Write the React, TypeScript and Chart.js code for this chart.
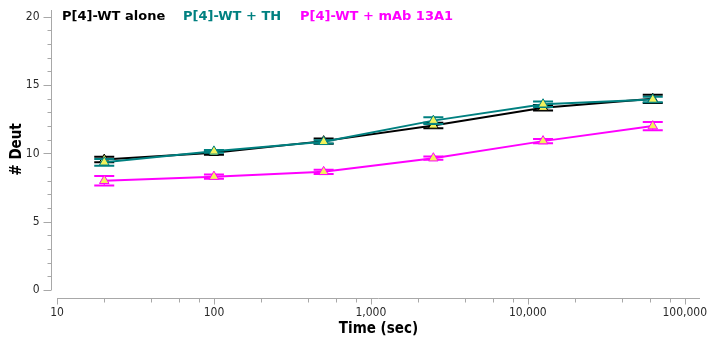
import { useEffect, useRef } from 'react';
import { Chart, registerables } from 'chart.js';

Chart.register(...registerables);

// Exchange time points (seconds)
const times = [20, 100, 500, 2500, 12500, 62500];

const seriesNames = ['P[4]-WT alone', 'P[4]-WT + TH', 'P[4]-WT + mAb 13A1'];
const seriesColors = ['#000000', '#008080', '#ff00ff'];

// Deuterium uptake and standard deviations per state
const aloneDeut = [9.55, 10.05, 10.9, 12.05, 13.35, 14.0];
const aloneErr = [0.2, 0.15, 0.2, 0.2, 0.2, 0.3];
const thDeut = [9.35, 10.15, 10.85, 12.4, 13.6, 13.95];
const thErr = [0.25, 0.1, 0.12, 0.25, 0.2, 0.2];
const mabDeut = [8.0, 8.3, 8.65, 9.65, 10.9, 12.0];
const mabErr = [0.35, 0.15, 0.15, 0.12, 0.15, 0.3];

const yMajorTicks = [0, 5, 10, 15, 20];
const xMajorTicks = [10, 100, 1000, 10000, 100000];
const xTickLabels = ['10', '100', '1,000', '10,000', '100,000'];
const xMinorFactors = [2, 4, 6, 8];

const xTitle = 'Time (sec)';
const yTitle = '# Deut';

const FONT = '"DejaVu Sans Condensed", "DejaVu Sans", sans-serif';
const LEGEND_FONT = '"DejaVu Sans", sans-serif';
const AXIS_GREY = '#a8a8a8';
const MARKER_FILL = '#f2f25c';

const errorSets = [aloneErr, thErr, mabErr];

const errorBarPlugin = {
  id: 'errorCaps',
  beforeDatasetDraw(chart: any, args: any) {
    const i = args.index;
    const errs = errorSets[i];
    const ds = chart.data.datasets[i];
    const xs = chart.scales.x;
    const ys = chart.scales.y;
    const ctx = chart.ctx;
    ctx.save();
    ctx.strokeStyle = seriesColors[i];
    ds.data.forEach((p: any, k: number) => {
      const px = xs.getPixelForValue(p.x);
      const top = ys.getPixelForValue(p.y + errs[k]);
      const bot = ys.getPixelForValue(p.y - errs[k]);
      ctx.lineWidth = 2;
      ctx.beginPath();
      ctx.moveTo(px - 10, top);
      ctx.lineTo(px + 10, top);
      ctx.moveTo(px - 10, bot);
      ctx.lineTo(px + 10, bot);
      ctx.stroke();
      ctx.lineWidth = 1;
      ctx.beginPath();
      ctx.moveTo(px, top);
      ctx.lineTo(px, bot);
      ctx.stroke();
    });
    ctx.restore();
  },
};

const axesPlugin = {
  id: 'plainAxes',
  afterDraw(chart: any) {
    const { ctx, chartArea } = chart;
    const xs = chart.scales.x;
    const ys = chart.scales.y;
    ctx.save();
    ctx.strokeStyle = AXIS_GREY;
    ctx.lineWidth = 1;

    // Y axis, set slightly left of the plot
    const yAxisX = Math.round(chartArea.left) - 6 + 0.5;
    const y0 = ys.getPixelForValue(0);
    ctx.beginPath();
    ctx.moveTo(yAxisX, chartArea.top);
    ctx.lineTo(yAxisX, y0);
    for (let v = 0; v <= 20; v++) {
      const py = Math.round(ys.getPixelForValue(v)) + 0.5;
      const len = v % 5 === 0 ? 8 : 4;
      ctx.moveTo(yAxisX - len, py);
      ctx.lineTo(yAxisX, py);
    }
    ctx.stroke();

    ctx.fillStyle = '#2a2a2a';
    ctx.font = `12px ${FONT}`;
    ctx.textAlign = 'right';
    ctx.textBaseline = 'middle';
    yMajorTicks.forEach((v) => {
      ctx.fillText(String(v), yAxisX - 12, ys.getPixelForValue(v));
    });

    // X axis, set slightly below the plot
    const xAxisY = Math.round(chartArea.bottom) + 8 + 0.5;
    ctx.beginPath();
    ctx.moveTo(chartArea.left, xAxisY);
    ctx.lineTo(chartArea.right, xAxisY);
    xMajorTicks.forEach((d) => {
      const px = Math.round(xs.getPixelForValue(d)) + 0.5;
      ctx.moveTo(px, xAxisY);
      ctx.lineTo(px, xAxisY + 6);
      xMinorFactors.forEach((f) => {
        const v = d * f;
        if (v <= xs.max) {
          const mx = Math.round(xs.getPixelForValue(v)) + 0.5;
          ctx.moveTo(mx, xAxisY);
          ctx.lineTo(mx, xAxisY + 4);
        }
      });
    });
    ctx.stroke();

    ctx.textAlign = 'center';
    ctx.textBaseline = 'top';
    xMajorTicks.forEach((d, k) => {
      ctx.fillText(xTickLabels[k], xs.getPixelForValue(d), xAxisY + 8);
    });

    // Axis titles
    ctx.fillStyle = '#000000';
    ctx.font = `bold 15px ${FONT}`;
    ctx.textBaseline = 'middle';
    ctx.fillText(xTitle, (chartArea.left + chartArea.right) / 2, 329);
    ctx.save();
    ctx.translate(17, ys.getPixelForValue(10) - 4);
    ctx.rotate(-Math.PI / 2);
    ctx.fillText(yTitle, 0, 0);
    ctx.restore();

    // Legend row
    ctx.font = `bold 13px ${LEGEND_FONT}`;
    ctx.textAlign = 'left';
    const legendX = [62, 183, 300];
    seriesNames.forEach((name, i) => {
      ctx.fillStyle = seriesColors[i];
      ctx.fillText(name, legendX[i], 17);
    });
    ctx.restore();
  },
};

function App() {
  const canvasRef = useRef<HTMLCanvasElement | null>(null);

  useEffect(() => {
    const canvas = canvasRef.current;
    if (!canvas) return;
    const series = [aloneDeut, thDeut, mabDeut];
    const orders = [1, 0, 2];
    const chart = new Chart(canvas, {
      type: 'line',
      data: {
        datasets: series.map((vals, i) => ({
          label: seriesNames[i],
          data: times.map((t, k) => ({ x: t, y: vals[k] })),
          borderColor: seriesColors[i],
          backgroundColor: MARKER_FILL,
          borderWidth: 2,
          pointStyle: 'triangle',
          pointRadius: 5.5,
          pointBorderWidth: 1,
          pointBorderColor: seriesColors[i],
          pointBackgroundColor: MARKER_FILL,
          tension: 0,
          order: orders[i],
        })),
      },
      options: {
        responsive: false,
        animation: false,
        events: [],
        layout: { padding: { left: 57, right: 9, top: 10, bottom: 55 } },
        plugins: {
          legend: { display: false },
          tooltip: { enabled: false },
        },
        scales: {
          x: {
            type: 'logarithmic',
            min: 10,
            max: 125000,
            display: false,
          },
          y: {
            type: 'linear',
            min: 0,
            max: 20.5,
            display: false,
          },
        },
      },
      plugins: [errorBarPlugin, axesPlugin],
    });
    return () => chart.destroy();
  }, []);

  return (
    <div style={{ position: 'absolute', left: 0, top: 0, width: 709, height: 345, background: '#ffffff' }}>
      <canvas ref={canvasRef} width={709} height={345} style={{ display: 'block' }} />
    </div>
  );
}

export default App;
